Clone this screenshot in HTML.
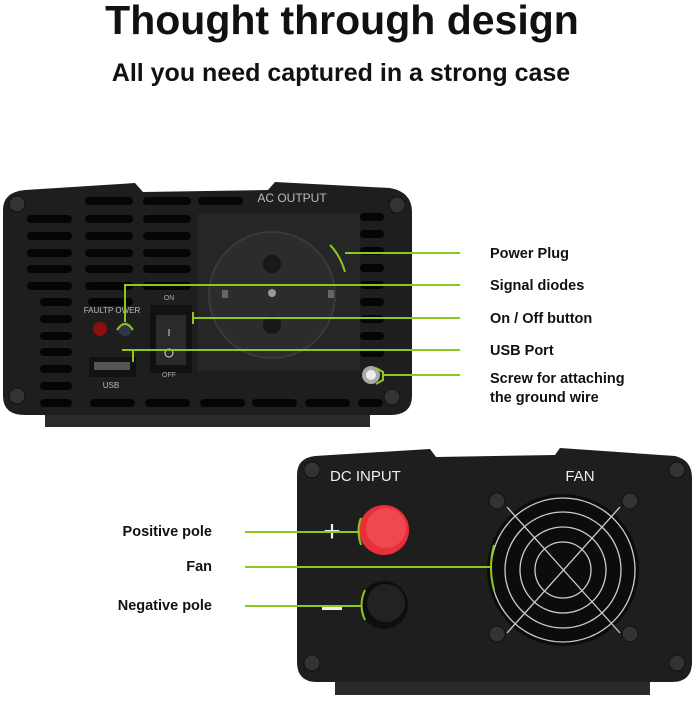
<!DOCTYPE html>
<html><head><meta charset="utf-8"><style>
body{margin:0;background:#fff;width:697px;height:699px;overflow:hidden;font-family:"Liberation Sans",sans-serif}
</style></head><body>
<svg width="697" height="699" viewBox="0 0 697 699" xmlns="http://www.w3.org/2000/svg" font-family="Liberation Sans, sans-serif">
<text x="342" y="34" text-anchor="middle" font-size="41" font-weight="bold" fill="#111">Thought through design</text>
<text x="341" y="81" text-anchor="middle" font-size="25" font-weight="bold" fill="#111">All you need captured in a strong case</text>

<!-- top device -->
<rect x="45" y="405" width="325" height="22" fill="#2a2a2a"/>
<path d="M3 210 Q3 192 25 190 L135 183 L143 192 L268 190 L275 182 L390 188 Q412 192 412 212 L412 396 Q412 415 390 415 L25 415 Q3 415 3 396 Z" fill="#1e1e1e"/>
<g fill="#050505">
<rect x="85" y="197" width="48" height="8" rx="4"/><rect x="143" y="197" width="48" height="8" rx="4"/><rect x="198" y="197" width="45" height="8" rx="4"/>
<rect x="27" y="215" width="45" height="8" rx="4"/><rect x="85" y="215" width="48" height="8" rx="4"/><rect x="143" y="215" width="48" height="8" rx="4"/>
<rect x="27" y="232" width="45" height="8" rx="4"/><rect x="85" y="232" width="48" height="8" rx="4"/><rect x="143" y="232" width="48" height="8" rx="4"/>
<rect x="27" y="249" width="45" height="8" rx="4"/><rect x="85" y="249" width="48" height="8" rx="4"/><rect x="143" y="249" width="48" height="8" rx="4"/>
<rect x="27" y="265" width="45" height="8" rx="4"/><rect x="85" y="265" width="48" height="8" rx="4"/><rect x="143" y="265" width="48" height="8" rx="4"/>
<rect x="27" y="282" width="45" height="8" rx="4"/><rect x="85" y="282" width="48" height="8" rx="4"/><rect x="143" y="282" width="48" height="8" rx="4"/>
<rect x="40" y="298" width="32" height="8" rx="4"/><rect x="88" y="298" width="45" height="8" rx="4"/>
<rect x="40" y="315" width="32" height="8" rx="4"/><rect x="40" y="332" width="32" height="8" rx="4"/><rect x="40" y="348" width="32" height="8" rx="4"/>
<rect x="40" y="365" width="32" height="8" rx="4"/><rect x="40" y="382" width="32" height="8" rx="4"/>
<rect x="40" y="399" width="32" height="8" rx="4"/><rect x="90" y="399" width="45" height="8" rx="4"/><rect x="145" y="399" width="45" height="8" rx="4"/><rect x="200" y="399" width="45" height="8" rx="4"/><rect x="252" y="399" width="45" height="8" rx="4"/><rect x="305" y="399" width="45" height="8" rx="4"/><rect x="358" y="399" width="25" height="8" rx="4"/>
<rect x="360" y="213" width="24" height="8" rx="4"/><rect x="360" y="230" width="24" height="8" rx="4"/><rect x="360" y="247" width="24" height="8" rx="4"/><rect x="360" y="264" width="24" height="8" rx="4"/><rect x="360" y="281" width="24" height="8" rx="4"/><rect x="360" y="298" width="24" height="8" rx="4"/><rect x="360" y="315" width="24" height="8" rx="4"/><rect x="360" y="332" width="24" height="8" rx="4"/><rect x="360" y="349" width="24" height="8" rx="4"/>
</g>
<text x="292" y="202" text-anchor="middle" font-size="12" fill="#bbb">AC OUTPUT</text>
<rect x="198" y="214" width="162" height="157" fill="#262626"/>
<circle cx="272" cy="295" r="63" fill="#2c2c2c" stroke="#3a3a3a" stroke-width="2"/>
<circle cx="272" cy="264" r="9" fill="#181818"/><circle cx="272" cy="325" r="9" fill="#181818"/>
<circle cx="272" cy="293" r="4" fill="#999"/>
<rect x="222" y="290" width="6" height="8" fill="#666"/><rect x="328" y="290" width="6" height="8" fill="#666"/>
<rect x="150" y="305" width="42" height="68" fill="#111"/><rect x="156" y="315" width="30" height="50" fill="#2a2a2a"/>
<text x="169" y="300" text-anchor="middle" font-size="7" fill="#aaa">ON</text>
<text x="169" y="377" text-anchor="middle" font-size="7" fill="#aaa">OFF</text>
<text x="169" y="336" text-anchor="middle" font-size="10" fill="#ddd">I</text>
<circle cx="169" cy="353" r="4" fill="none" stroke="#ddd"/>
<text x="112" y="313" text-anchor="middle" font-size="8" fill="#bbb">FAULTP OWER</text>
<circle cx="100" cy="329" r="7" fill="#8a1010"/><circle cx="125" cy="329" r="7" fill="#334"/>
<rect x="89" y="357" width="47" height="20" fill="#111"/><rect x="94" y="362" width="36" height="8" fill="#555"/>
<text x="111" y="388" text-anchor="middle" font-size="8" fill="#bbb">USB</text>
<circle cx="371" cy="375" r="9" fill="#aaa"/><circle cx="371" cy="375" r="5" fill="#eee"/>
<g fill="#333" stroke="#111"><circle cx="17" cy="204" r="8"/><circle cx="397" cy="205" r="8"/><circle cx="17" cy="396" r="8"/><circle cx="392" cy="397" r="8"/></g>
<g stroke="#8cc820" stroke-width="2" fill="none">
<path d="M330 245 Q340 255 345 272"/><path d="M345 253 H460"/>
<path d="M125 322 V285 H460"/><path d="M117 330 Q125 318 133 330"/>
<path d="M193 312 V324 M193 318 H460"/>
<path d="M122 350 H133 V362 M133 350 H460"/>
<path d="M383 375 H460 M376 368 L383 372 L383 380 L376 384"/>
</g>
<g font-size="14.5" font-weight="bold" fill="#111">
<text x="490" y="258">Power Plug</text>
<text x="490" y="290">Signal diodes</text>
<text x="490" y="323">On / Off button</text>
<text x="490" y="355">USB Port</text>
<text x="490" y="383">Screw for attaching</text>
<text x="490" y="402">the ground wire</text>
</g>

<!-- bottom device -->
<rect x="335" y="675" width="315" height="20" fill="#2a2a2a"/>
<path d="M297 475 Q297 458 315 456 L430 449 L436 457 L555 455 L560 448 L675 456 Q692 460 692 478 L692 662 Q692 682 672 682 L317 682 Q297 682 297 662 Z" fill="#1e1e1e"/>
<text x="330" y="481" font-size="15" fill="#eee">DC INPUT</text>
<text x="580" y="481" text-anchor="middle" font-size="15" fill="#eee">FAN</text>
<text x="332" y="541" text-anchor="middle" font-size="30" fill="#eee">+</text>
<rect x="322" y="607" width="20" height="3" fill="#eee"/>
<circle cx="384" cy="530" r="25" fill="#e8303a"/><circle cx="386" cy="528" r="20" fill="#f04850"/>
<circle cx="384" cy="605" r="24" fill="#0e0e0e"/><circle cx="386" cy="603" r="19" fill="#222"/>
<circle cx="563" cy="570" r="76" fill="#0c0c0c"/>
<g fill="none" stroke="#ccc" stroke-width="1.3"><circle cx="563" cy="570" r="72"/><circle cx="563" cy="570" r="58"/><circle cx="563" cy="570" r="43"/><circle cx="563" cy="570" r="28"/><path d="M507 507 L620 633 M620 507 L507 633"/></g>
<g fill="#333" stroke="#111"><circle cx="497" cy="501" r="8"/><circle cx="630" cy="501" r="8"/><circle cx="497" cy="634" r="8"/><circle cx="630" cy="634" r="8"/><circle cx="312" cy="470" r="8"/><circle cx="677" cy="470" r="8"/><circle cx="312" cy="663" r="8"/><circle cx="677" cy="663" r="8"/></g>
<g stroke="#8cc820" stroke-width="2" fill="none">
<path d="M245 532 H360"/><path d="M361 518 Q356 530 361 545"/>
<path d="M245 567 H490"/><path d="M494 545 Q488 567 494 590"/>
<path d="M245 606 H362"/><path d="M365 590 Q358 605 365 620"/>
</g>
<g font-size="14.5" font-weight="bold" fill="#111" text-anchor="end">
<text x="212" y="536">Positive pole</text>
<text x="212" y="571">Fan</text>
<text x="212" y="610">Negative pole</text>
</g>
</svg>
</body></html>
